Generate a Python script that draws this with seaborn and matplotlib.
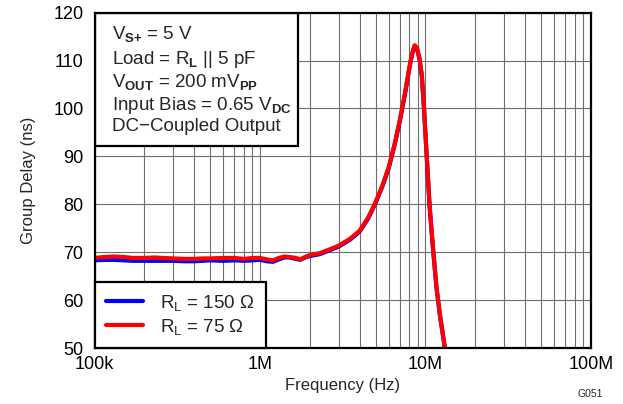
import numpy as np
import pandas as pd
import matplotlib
matplotlib.use("Agg")
import matplotlib.pyplot as plt
import matplotlib.patches as patches
from matplotlib.ticker import FixedLocator, LogLocator, NullFormatter
import seaborn as sns

# frequency points (Hz)
freq = [1.0e5, 1.15e5, 1.3e5, 1.5e5, 1.7e5, 2.0e5, 2.3e5, 2.6e5, 3.0e5, 3.5e5,
        4.0e5, 4.5e5, 5.0e5, 6.0e5, 7.0e5, 8.0e5, 9.0e5, 1.0e6, 1.1e6, 1.2e6,
        1.3e6, 1.4e6, 1.5e6, 1.65e6, 1.75e6, 1.9e6, 2.0e6, 2.3e6, 2.64e6, 3.0e6,
        3.5e6, 4.0e6, 4.5e6, 5.0e6, 5.5e6, 6.0e6, 6.5e6, 7.0e6, 7.5e6, 8.0e6,
        8.3e6, 8.6e6, 8.9e6, 9.2e6, 9.5e6, 9.8e6, 10.1e6, 10.6e6, 11.1e6, 11.65e6,
        12.2e6, 13.1e6, 13.6e6]

# group delay (ns), RL = 150 ohm
delay_150 = [68.3, 68.4, 68.4, 68.3, 68.2, 68.2, 68.2, 68.2, 68.2, 68.1,
             68.1, 68.2, 68.3, 68.2, 68.3, 68.2, 68.3, 68.4, 68.1, 68.0,
             68.5, 68.9, 68.9, 68.6, 68.4, 69.0, 69.2, 69.6, 70.4, 71.2,
             72.6, 74.3, 77.0, 80.3, 83.8, 87.6, 92.3, 97.4, 102.8, 108.5,
             111.3, 113.0, 112.4, 110.3, 106.8, 99.8, 91.8, 79.3, 70.8, 62.6,
             57.0, 50.0, 46.5]

# group delay (ns), RL = 75 ohm
delay_75 = [68.8, 69.0, 69.1, 69.0, 68.8, 68.8, 68.9, 68.8, 68.7, 68.6,
            68.6, 68.7, 68.7, 68.8, 68.8, 68.6, 68.8, 68.8, 68.5, 68.3,
            68.8, 69.1, 69.0, 68.8, 68.5, 69.1, 69.4, 69.8, 70.6, 71.4,
            72.8, 74.5, 77.2, 80.5, 84.0, 87.8, 92.5, 97.6, 103.0, 108.7,
            111.5, 113.2, 112.6, 110.5, 107.0, 100.0, 92.0, 79.5, 71.0, 62.8,
            57.2, 50.0, 46.5]

series_labels = [r'R$_{\mathregular{L}}$ = 150 Ω', r'R$_{\mathregular{L}}$ = 75 Ω']
series_colors = ['#0000FF', '#FF0000']

x_ticks = [1e5, 1e6, 1e7, 1e8]
x_ticklabels = ['100k', '1M', '10M', '100M']
y_ticks = [50, 60, 70, 80, 90, 100, 110, 120]

info_lines = [r'V$_{\mathbf{S}{\mathbf{+}}}$ = 5 V',
              r'Load = R$_{\mathbf{L}}$ || 5 pF',
              r'V$_{\mathbf{OUT}}$ = 200 mV$_{\mathbf{PP}}$',
              r'Input Bias = 0.65 V$_{\mathbf{DC}}$',
              'DC\u2212Coupled Output']

df = pd.concat([
    pd.DataFrame({'freq': freq, 'delay': delay_150, 'load': series_labels[0]}),
    pd.DataFrame({'freq': freq, 'delay': delay_75, 'load': series_labels[1]}),
])

sns.set_style('white')
plt.rcParams['font.family'] = ['Liberation Sans', 'DejaVu Sans']
plt.rcParams['mathtext.fontset'] = 'custom'
plt.rcParams['mathtext.rm'] = 'Liberation Sans'
plt.rcParams['mathtext.bf'] = 'Liberation Sans:bold'
plt.rcParams['mathtext.it'] = 'Liberation Sans:italic'

fig = plt.figure(figsize=(6.23, 4.04), dpi=100)
ax = fig.add_axes([0.1517, 0.1386, 0.7969, 0.8300])

sns.lineplot(data=df, x='freq', y='delay', hue='load', palette=series_colors,
             hue_order=series_labels, linewidth=3, ax=ax, sort=False,
             estimator=None, zorder=3)

ax.set_xscale('log')
ax.set_xlim(1e5, 1e8)
ax.set_ylim(50, 120)
ax.xaxis.set_major_locator(FixedLocator(x_ticks))
ax.set_xticklabels(x_ticklabels)
ax.xaxis.set_minor_locator(LogLocator(base=10, subs=np.arange(2, 10)))
ax.xaxis.set_minor_formatter(NullFormatter())
ax.set_yticks(y_ticks)

ax.grid(which='both', color='#6e6e6e', linewidth=0.8, zorder=0)
ax.set_axisbelow(True)
ax.tick_params(which='both', length=0, labelsize=13, colors='black')
ax.tick_params(axis='y', pad=8)
ax.tick_params(axis='x', pad=6)
for s in ax.spines.values():
    s.set_color('black')
    s.set_linewidth(1.6)
    s.set_zorder(5)

ax.set_xlabel('Frequency (Hz)', fontsize=12, labelpad=3)
ax.set_ylabel('Group Delay (ns)', fontsize=12, labelpad=12)

# info box
box = patches.Rectangle((0, 0.603), 0.41, 0.397, transform=ax.transAxes,
                        facecolor='white', edgecolor='black', linewidth=1.6, zorder=2)
ax.add_patch(box)
baselines = [0.9207, 0.847, 0.7775, 0.7095, 0.648]
for txt, yb in zip(info_lines, baselines):
    ax.text(0.035, yb, txt, transform=ax.transAxes, fontsize=13.5,
            va='baseline', ha='left', zorder=4)

handles, labels = ax.get_legend_handles_labels()
leg = ax.legend(handles, labels, loc='lower left', fontsize=13.5, frameon=True,
                fancybox=False, framealpha=1, edgecolor='black',
                borderaxespad=0, handlelength=2.0, handletextpad=0.9,
                borderpad=0.6, labelspacing=0.2)
leg.get_frame().set_linewidth(1.6)
leg.set_zorder(6)
for line in leg.get_lines():
    line.set_linewidth(3)

fig.text(0.968, 0.012, 'G051', fontsize=7.5, ha='right', va='bottom')

fig.savefig('out.png', dpi=100)
